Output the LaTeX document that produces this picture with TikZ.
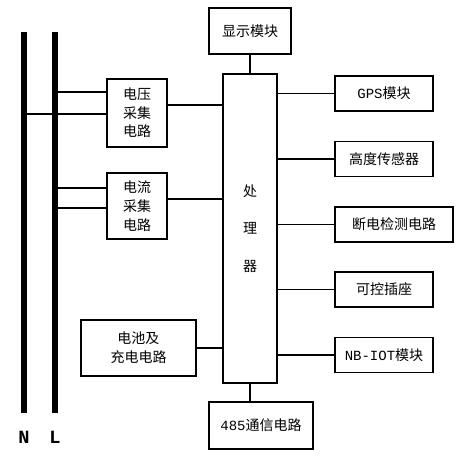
\documentclass[tikz,border=0pt]{standalone}
\usepackage{fontspec}
\setmainfont{Noto Sans CJK SC}
\newfontfamily\latinmono{Liberation Mono}
\usetikzlibrary{positioning, calc}

\tikzset{
    blk/.style={draw, line width=0.9pt, align=center, inner sep=0pt, font=\fontsize{10.5}{14}\selectfont},
    wire/.style={line width=0.9pt},
    bus/.style={line width=3.8pt}
}

\begin{document}
\begin{tikzpicture}[x=0.75pt, y=-0.75pt]

    \useasboundingbox (0,0) rectangle (468,457);

    % Bus N y L
    \coordinate (Ntop) at (24,32);
    \coordinate (Nbot) at (24,413);
    \coordinate (Ltop) at (55,32);
    \coordinate (Lbot) at (55,413);
    \draw[bus] (Ntop) -- (Nbot);
    \draw[bus] (Ltop) -- (Lbot);
    \node[font=\latinmono\bfseries\fontsize{14}{16}\selectfont] (labN) at (24,437) {N};
    \node[font=\latinmono\bfseries\fontsize{14}{16}\selectfont] (labL) at (55,437) {L};

    % Procesador central
    \node[blk, minimum width=40.5pt, minimum height=231.75pt, font=\fontsize{10.5}{28}\selectfont] (cpu) at (250,228.5) {处\\理\\器};

    % Bloques arriba y abajo
    \node[blk, minimum width=61.5pt, minimum height=34.5pt] (disp) at (250,31) {显示模块};
    \node[blk, minimum width=78pt, minimum height=35.25pt] (r485) at (261,425.5) {{\latinmono 485}通信电路};

    % Bloques de la izquierda
    \node[blk, minimum width=45pt, minimum height=51pt] (volt) at (137,113) {电压\\采集\\电路};
    \node[blk, minimum width=45pt, minimum height=49.5pt] (curr) at (137,206) {电流\\采集\\电路};
    \node[blk, minimum width=86.25pt, minimum height=42pt] (bat) at (138.5,348) {电池及\\充电电路};

    % Bloques de la derecha
    \node[blk, minimum width=73.5pt, minimum height=26.25pt] (gps) at (384,93.5) {{\latinmono GPS}模块};
    \node[blk, minimum width=73.5pt, minimum height=26.25pt] (alt) at (384,159) {高度传感器};
    \node[blk, minimum width=88.5pt, minimum height=26.25pt] (brk) at (394,224.5) {断电检测电路};
    \node[blk, minimum width=73.5pt, minimum height=26.25pt] (sock) at (384,289.5) {可控插座};
    \node[blk, minimum width=73.5pt, minimum height=26.25pt] (nb) at (384,355) {{\latinmono NB-IOT}模块};

    % Conexiones con el bus
    \coordinate (v1) at (volt.west |- 0,92);
    \coordinate (v2) at (volt.west |- 0,114);
    \coordinate (v3) at (volt.east |- 0,105);
    \coordinate (c1) at (curr.west |- 0,188);
    \coordinate (c2) at (curr.west |- 0,208);
    \coordinate (c3) at (curr.east |- 0,199);
    \draw[wire] (v1) -- (v1 -| Ltop);
    \draw[wire] (v2) -- (v2 -| Ntop);
    \draw[wire] (c1) -- (c1 -| Ltop);
    \draw[wire] (c2) -- (c2 -| Ltop);

    % Conexiones con el procesador
    \draw[wire] (v3) -- (v3 -| cpu.west);
    \draw[wire] (c3) -- (c3 -| cpu.west);
    \draw[wire] (bat.east) -- (bat.east -| cpu.west);
    \draw[wire] (disp.south) -- (cpu.north);
    \draw[wire] (cpu.south) -- (cpu.south |- r485.north);
    \foreach \b in {gps, alt, brk, sock, nb}
        \draw[wire] (\b.west) -- (\b.west -| cpu.east);

\end{tikzpicture}
\end{document}
